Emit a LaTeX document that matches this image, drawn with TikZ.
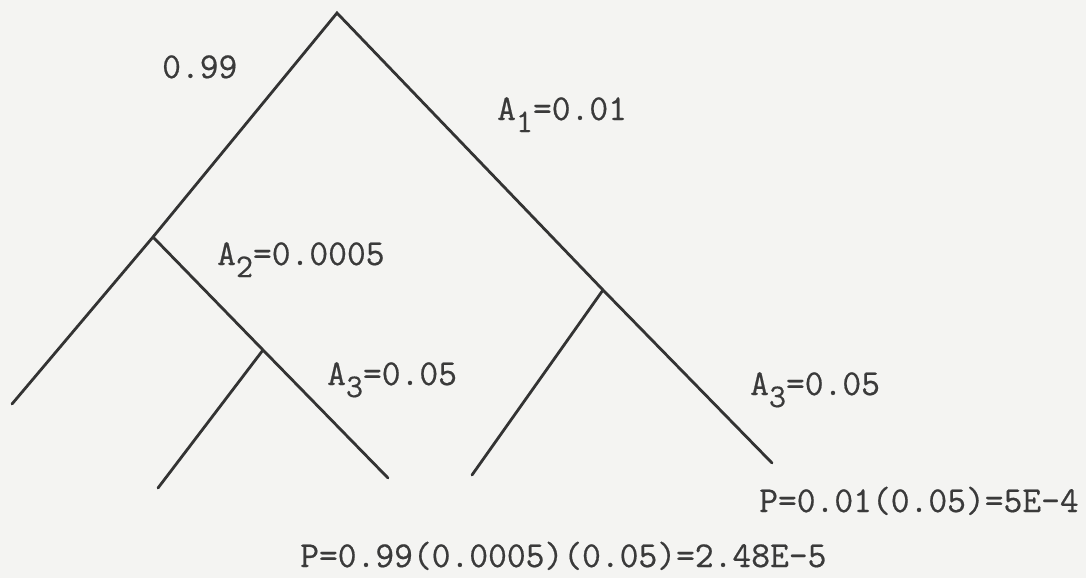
\documentclass[tikz,border=0pt]{standalone}
\usepackage{fontspec}
\newfontfamily\typew[FakeBold=0.5]{Latin Modern Mono}
\definecolor{paper}{HTML}{F4F4F2}
\definecolor{ink}{HTML}{333333}
\definecolor{txt}{HTML}{3A3A3A}
\newcommand{\subidx}[1]{\raisebox{-12pt}{\fontsize{33}{33}\selectfont #1}}
\tikzset{
  branch/.style={draw=ink, line width=2.8pt, line cap=round},
  lbl/.style={anchor=base west, inner sep=0pt, text=txt, font=\typew\fontsize{36.5}{36.5}\selectfont}
}
\begin{document}
\begin{tikzpicture}[x=1pt,y=-1pt]
\useasboundingbox[fill=paper] (0,0) rectangle (1086,578);
% tree points
\coordinate (apex) at (337,13);
\coordinate (L) at (153,237);
\coordinate (Lend) at (12,404);
\coordinate (R) at (603,290);
\coordinate (Rend) at (772,463);
\coordinate (LR) at (263,350);
\coordinate (LRend) at (388,478);
\coordinate (LRL) at (158,488);
\coordinate (RL) at (472,475);
% branches
\draw[branch] (Lend) -- (L) -- (apex) -- (R) -- (Rend);
\draw[branch] (L) -- (LR) -- (LRend);
\draw[branch] (LR) -- (LRL);
\draw[branch] (R) -- (RL);
% labels
\node[lbl] (p099) at (162,78) {0.99};
\node[lbl] (a1) at (497,120) {A\subidx{1}=0.01};
\node[lbl] (a2) at (217,265) {A\subidx{2}=0.0005};
\node[lbl] (a3l) at (327,385) {A\subidx{3}=0.05};
\node[lbl] (a3r) at (750,395) {A\subidx{3}=0.05};
\node[lbl] (pr) at (759,512) {P=0.01(0.05)=5E-4};
\node[lbl] (pb) at (300,567) {P=0.99(0.0005)(0.05)=2.48E-5};
\end{tikzpicture}
\end{document}
